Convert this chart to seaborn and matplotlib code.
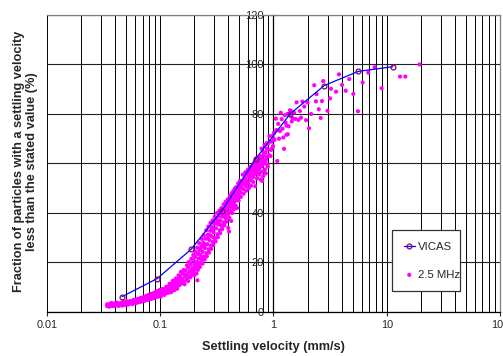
import numpy as np
import pandas as pd
import matplotlib
matplotlib.use("Agg")
import matplotlib.pyplot as plt
import seaborn as sns
from matplotlib.ticker import LogLocator, FixedLocator, NullFormatter

# Données
vicas_velocity = [0.046, 0.094, 0.187, 0.351, 0.70, 1.40, 2.81, 5.61, 11.3]
vicas_fraction = [6.2, 13.5, 25.3, 41.0, 62.0, 80.0, 91.5, 97.2, 99.1]

# 2.5 MHz - première série de points
mhz_velocity = [
    0.034, 0.034, 0.035, 0.036, 0.036, 0.037, 0.038, 0.038, 0.039, 0.040,
    0.040, 0.041, 0.042, 0.042, 0.043, 0.044, 0.045, 0.045, 0.046, 0.047,
    0.048, 0.049, 0.050, 0.050, 0.052, 0.053, 0.054, 0.055, 0.056, 0.058,
    0.059, 0.060, 0.062, 0.063, 0.064, 0.066, 0.067, 0.068, 0.070, 0.071,
    0.072, 0.074, 0.075, 0.076, 0.078, 0.079, 0.080, 0.082, 0.083, 0.084,
    0.086, 0.087, 0.088, 0.090, 0.091, 0.092, 0.094, 0.095, 0.096, 0.098,
    0.099, 0.100,
    0.102, 0.104, 0.106, 0.108, 0.110, 0.112, 0.114, 0.116, 0.118, 0.120,
    0.122, 0.124, 0.126, 0.128, 0.130, 0.132, 0.134, 0.136, 0.138, 0.140,
    0.142, 0.144, 0.146, 0.148, 0.150, 0.153, 0.156, 0.159, 0.162, 0.165,
    0.168, 0.171, 0.174, 0.177, 0.180, 0.183, 0.186, 0.189, 0.192, 0.195,
    0.198, 0.201, 0.204, 0.207, 0.210, 0.213, 0.213, 0.216, 0.219, 0.222,
    0.225, 0.228, 0.231, 0.234, 0.237, 0.240, 0.244, 0.248, 0.252, 0.256,
    0.260, 0.264, 0.268, 0.272, 0.276, 0.280, 0.284, 0.288, 0.292, 0.296,
    0.300, 0.305, 0.310, 0.315, 0.320, 0.325, 0.330, 0.335, 0.340, 0.345,
    0.350, 0.355, 0.360, 0.365, 0.370, 0.375, 0.380, 0.385, 0.390, 0.395,
    0.400, 0.405, 0.410, 0.415, 0.420, 0.425, 0.430, 0.435, 0.440, 0.445,
    0.450, 0.455, 0.460, 0.465, 0.470, 0.475, 0.480, 0.485, 0.490, 0.495,
    0.500, 0.510, 0.520, 0.530, 0.540, 0.550, 0.560, 0.570, 0.580, 0.590,
    0.600, 0.610, 0.620, 0.630, 0.640, 0.650, 0.660, 0.670, 0.680, 0.690,
    0.700, 0.710, 0.720, 0.730, 0.740, 0.750, 0.760, 0.770, 0.780, 0.790,
    0.800, 0.810, 0.820, 0.830, 0.840, 0.850, 0.860, 0.870, 0.880, 0.890,
    0.900, 0.920, 0.940, 0.960, 0.980, 1.000, 1.010, 1.050, 1.080, 1.140,
    1.180, 1.240, 1.260, 1.300, 1.300, 1.340, 1.380, 1.430, 1.470, 1.600,
    1.660, 1.710, 1.870, 1.940, 2.000, 2.060, 2.290, 2.370, 2.510, 2.610,
    2.680, 2.750, 3.000, 3.160, 3.220, 3.570, 3.790, 4.030, 4.340, 4.670,
    5.070, 5.570, 6.130, 6.870, 7.830, 9.020, 13.1, 14.6, 19.5,
]
mhz_fraction = [
    2.4, 3.1, 2.7, 3.3, 2.3, 2.9, 3.4, 2.5, 3.0, 2.6,
    3.5, 3.1, 2.7, 3.6, 3.2, 2.8, 3.7, 3.0, 3.4, 2.9,
    3.8, 3.2, 3.6, 4.2, 3.3, 3.9, 4.4, 3.5, 4.1, 4.6,
    3.7, 4.3, 4.9, 3.9, 4.6, 5.2, 4.2, 4.9, 5.6, 4.5,
    5.2, 6.0, 4.8, 5.5, 6.3, 5.1, 5.9, 6.7, 5.3, 6.2,
    7.1, 5.6, 6.5, 7.5, 6.0, 6.9, 7.8, 6.3, 7.3, 8.3,
    6.6, 7.6,
    8.7, 7.0, 8.0, 9.2, 7.4, 8.5, 9.8, 7.9, 9.0, 10.5,
    8.4, 9.6, 11.2, 8.9, 10.2, 12.0, 9.5, 10.9, 12.8, 10.1,
    11.6, 13.6, 10.8, 12.4, 14.5, 11.5, 13.3, 15.6, 12.3, 14.3,
    16.8, 13.2, 15.4, 18.0, 14.2, 16.5, 19.3, 15.2, 17.8, 20.8,
    16.3, 19.0, 22.2, 17.5, 20.3, 12.8, 23.6, 18.6, 21.6, 25.0,
    19.8, 22.9, 26.5, 21.0, 24.3, 28.0, 22.4, 25.8, 29.6, 23.8,
    27.4, 31.2, 25.3, 29.0, 32.8, 26.8, 30.6, 34.3, 28.3, 32.2,
    35.8, 29.8, 33.8, 37.2, 31.4, 35.4, 38.6, 33.0, 37.0, 39.9,
    34.6, 38.5, 41.0, 36.2, 39.9, 42.2, 37.8, 41.2, 43.5, 39.3,
    42.5, 32.5, 44.8, 40.8, 43.8, 46.0, 42.2, 45.0, 47.2, 43.6,
    46.2, 48.3, 44.9, 47.3, 49.4, 46.1, 48.4, 50.4, 47.2, 49.4,
    51.3, 48.3, 50.6, 52.8, 49.6, 51.9, 54.2, 50.8, 53.2, 55.6,
    52.0, 54.5, 57.0, 53.2, 55.8, 58.2, 54.4, 57.0, 59.3, 50.8,
    58.2, 60.3, 56.7, 59.3, 61.3, 57.8, 60.4, 53.5, 62.4, 58.9,
    61.5, 54.8, 63.4, 60.0, 57.5, 64.5, 61.5, 68.2, 62.8, 58.7,
    65.7, 71.1, 63.0, 68.8, 66.4, 70.2, 72.4, 78.1, 61.0, 73.1,
    77.9, 65.9, 79.5, 71.6, 75.3, 71.8, 79.5, 81.2, 78.3, 84.7,
    77.6, 81.2, 83.0, 77.5, 84.6, 74.2, 91.6, 85.1, 81.9, 78.4,
    85.2, 93.3, 81.3, 86.3, 90.2, 89.0, 96.0, 91.7, 89.4, 94.1,
    88.1, 81.1, 92.7, 96.7, 98.9, 90.4, 95.1, 95.1, 100.0,
]

# 2.5 MHz - deuxième série (remplissage de la bande dense)
band_velocity = [
    0.035, 0.037, 0.039, 0.041, 0.043, 0.044, 0.046, 0.047, 0.049, 0.051,
    0.052, 0.054, 0.057, 0.058, 0.061, 0.063, 0.065, 0.067, 0.069, 0.071,
    0.073, 0.075, 0.077, 0.079, 0.081, 0.083, 0.085, 0.087, 0.089, 0.091,
    0.093, 0.095, 0.097, 0.099,
    0.101, 0.105, 0.109, 0.113, 0.117, 0.121, 0.125, 0.129, 0.133, 0.137,
    0.141, 0.145, 0.149, 0.152, 0.157, 0.161, 0.164, 0.167, 0.172, 0.176,
    0.179, 0.184, 0.188, 0.191, 0.196, 0.199, 0.203, 0.206, 0.209, 0.212,
    0.215, 0.218, 0.221, 0.224, 0.227, 0.230, 0.233, 0.236, 0.239, 0.243,
    0.247, 0.251, 0.255, 0.258, 0.262, 0.266, 0.270, 0.274, 0.278, 0.282,
    0.286, 0.290, 0.294, 0.298, 0.303, 0.308, 0.313, 0.318, 0.323, 0.328,
    0.333, 0.338, 0.343, 0.348, 0.353, 0.358, 0.363, 0.368, 0.373, 0.378,
    0.383, 0.388, 0.393, 0.398, 0.403, 0.408, 0.413, 0.418, 0.423, 0.428,
    0.433, 0.438, 0.443, 0.448, 0.453, 0.458, 0.463, 0.468, 0.473, 0.478,
    0.483, 0.488, 0.493, 0.498, 0.505, 0.515, 0.525, 0.535, 0.545, 0.555,
    0.565, 0.575, 0.585, 0.595, 0.605, 0.615, 0.625, 0.635, 0.645, 0.655,
    0.665, 0.675, 0.685, 0.695, 0.705, 0.715, 0.725, 0.735, 0.745, 0.755,
    0.765, 0.775, 0.785, 0.795, 0.805, 0.815, 0.825, 0.835, 0.845, 0.855,
    0.865, 0.875, 0.885, 0.895, 0.910, 0.930, 0.950, 0.970, 0.990, 1.020,
    1.060, 1.100, 1.120, 1.160, 1.200, 1.220, 1.280, 1.330, 1.360, 1.400,
    1.450, 1.520, 1.560, 1.750, 1.800, 2.150, 2.400,
]
band_fraction = [
    2.2, 3.6, 2.4, 3.8, 2.5, 3.4, 2.6, 4.0, 2.9, 4.3,
    3.0, 3.5, 3.2, 4.9, 3.6, 5.3, 4.0, 5.7, 4.3, 6.0,
    4.6, 6.5, 4.9, 6.9, 5.2, 7.3, 5.5, 7.6, 5.8, 8.1,
    6.1, 8.5, 6.4, 8.9,
    6.2, 9.3, 6.9, 10.2, 7.7, 11.4, 8.0, 12.6, 8.8, 13.5,
    9.4, 14.8, 11.0, 16.2, 12.0, 17.0, 11.2, 15.0, 18.8, 12.5,
    20.2, 14.0, 21.5, 16.8, 23.0, 14.8, 24.5, 19.8, 15.5, 26.0,
    17.0, 23.5, 27.8, 18.2, 25.6, 21.8, 29.5, 19.5, 26.8, 31.0,
    21.2, 27.2, 33.0, 22.5, 29.8, 34.5, 24.0, 31.0, 36.0, 25.5,
    33.5, 37.0, 27.0, 30.0, 38.5, 28.5, 35.8, 40.0, 30.2, 36.5,
    41.0, 31.8, 35.2, 42.0, 33.5, 40.2, 43.5, 35.0, 38.8, 44.5,
    36.5, 40.5, 45.5, 34.0, 44.0, 38.0, 47.0, 42.5, 36.8, 48.0,
    40.0, 44.5, 49.0, 41.5, 46.0, 50.0, 43.0, 45.5, 50.5, 42.0,
    47.8, 52.0, 45.0, 49.5, 53.0, 46.5, 51.5, 55.5, 47.8, 53.5,
    56.5, 49.0, 52.0, 57.5, 50.0, 55.0, 58.5, 51.0, 56.5, 59.5,
    52.5, 55.5, 60.5, 56.0, 62.0, 54.0, 58.0, 62.5, 55.5, 59.0,
    63.0, 56.5, 66.0, 53.0, 60.0, 64.5, 57.0, 67.5, 60.5, 56.0,
    62.5, 66.0, 59.5, 68.0, 63.5, 69.0, 65.5, 71.0, 67.0, 69.5,
    73.5, 76.0, 70.0, 80.5, 74.0, 70.5, 76.5, 80.0, 75.0, 81.5,
    77.0, 80.5, 78.0, 78.5, 85.0, 80.0, 88.0,
]

x_ticks = [0.01, 0.1, 1, 10, 100]
x_tick_labels = ["0.01", "0.1", "1", "10", "100"]
y_ticks = [0, 20, 40, 60, 80, 100, 120]

df_vicas = pd.DataFrame({"v": vicas_velocity, "f": vicas_fraction})
df_mhz = pd.DataFrame({"v": mhz_velocity + band_velocity,
                       "f": mhz_fraction + band_fraction})

sns.set_style("white")
plt.rcParams["font.family"] = ["Liberation Sans", "DejaVu Sans"]

fig = plt.figure(figsize=(5.03, 3.56), dpi=100)
ax = fig.add_axes([0.0934, 0.1236, 0.9006, 0.8344])

sns.scatterplot(data=df_mhz, x="v", y="f", ax=ax, color="#FF00FF",
                s=9, marker="o", edgecolor="none", zorder=3, label="2.5 MHz")
sns.lineplot(data=df_vicas, x="v", y="f", ax=ax, sort=False, color="#0000FF",
             lw=0.9, marker="o", markersize=3.5, markerfacecolor="none",
             markeredgecolor="#800080", markeredgewidth=0.9, zorder=4,
             label="VICAS")

ax.set_xscale("log")
ax.set_xlim(0.01, 100)
ax.set_ylim(0, 120)

ax.xaxis.set_major_locator(FixedLocator(x_ticks))
ax.set_xticklabels(x_tick_labels)
ax.xaxis.set_minor_locator(LogLocator(base=10, subs=np.arange(2, 10)))
ax.xaxis.set_minor_formatter(NullFormatter())
ax.set_yticks(y_ticks)

ax.grid(True, which="both", axis="x", color="black", lw=0.7)
ax.grid(True, which="major", axis="y", color="#222222", lw=0.8)
ax.set_axisbelow(True)

# axe des y au milieu (à x = 1)
ax.spines["left"].set_position(("data", 1))
ax.spines["left"].set_color("black")
ax.spines["bottom"].set_color("black")
ax.spines["top"].set_color("#808080")
ax.spines["right"].set_color("#808080")
for s in ax.spines.values():
    s.set_linewidth(0.9)

ax.tick_params(axis="x", which="major", direction="out", length=3,
               width=0.8, labelsize=7.8, pad=3, bottom=True)
ax.tick_params(axis="x", which="minor", length=0)
ax.tick_params(axis="y", direction="inout", length=6, width=0.8,
               labelsize=8, pad=4, left=True)

ax.set_xlabel("Settling velocity (mm/s)", fontsize=9.2, fontweight="bold",
              labelpad=8)
ax.set_ylabel("")
fig.text(0.051, 0.546,
         "Fraction of particles with a settling velocity\nless than the stated value (%)",
         rotation=90, ha="center", va="center", fontsize=9.2,
         fontweight="bold", linespacing=1.1)

handles, labels = ax.get_legend_handles_labels()
order = [labels.index("VICAS"), labels.index("2.5 MHz")]
leg = ax.legend([handles[i] for i in order], [labels[i] for i in order],
                loc="lower left", bbox_to_anchor=(0.762, 0.07, 0.15, 0.21),
                mode="expand", fontsize=8.2, frameon=True, fancybox=False,
                edgecolor="#333333", framealpha=1, handlelength=1.0,
                handletextpad=0.25, borderpad=1.0, labelspacing=1.6,
                borderaxespad=0)
leg.get_frame().set_linewidth(0.9)

fig.savefig("out.png", dpi=100)
